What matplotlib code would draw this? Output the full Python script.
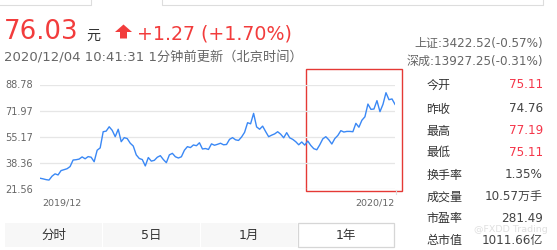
import matplotlib
matplotlib.use("Agg")
import matplotlib.pyplot as plt
from matplotlib.patches import Rectangle, Polygon

# ---------------- data ----------------
prices = [28.5, 28.1, 27.6, 27.3, 29.8, 31.3, 30.6, 33.4, 34.0, 34.6,
          36.0, 40.2, 40.4, 40.8, 42.2, 41.0, 42.4, 42.0, 39.1, 46.5,
          48.0, 58.4, 58.8, 61.6, 59.3, 55.2, 60.0, 52.0, 54.6, 54.0,
          51.0, 49.2, 43.5, 41.2, 40.5, 36.4, 41.8, 39.5, 40.0, 42.0,
          43.0, 40.5, 38.5, 43.5, 44.5, 42.3, 41.5, 42.3, 46.5, 48.8,
          48.2, 49.9, 49.4, 51.3, 47.3, 47.6, 47.0, 50.6, 49.7, 50.3,
          51.0, 50.0, 50.2, 53.5, 54.6, 53.2, 52.8, 55.0, 58.0, 64.2,
          63.5, 70.2, 61.5, 60.0, 62.0, 58.5, 55.2, 56.2, 57.0, 58.4,
          56.8, 54.5, 57.8, 54.5, 53.5, 52.0, 50.0, 51.8, 49.8, 52.4,
          49.6, 47.5, 46.8, 50.0, 53.8, 55.2, 53.2, 50.5, 54.0, 56.0,
          59.1, 58.2, 58.6, 58.6, 58.4, 63.8, 61.3, 65.8, 68.0, 76.2,
          72.8, 73.0, 78.4, 71.3, 76.0, 83.5, 79.0, 79.5, 76.03]
y_ticks = [21.56, 38.36, 55.17, 71.97, 88.78]
x_labels = ["2019/12", "2020/12"]

price_now = "76.03"
change_text = "+1.27 (+1.70%)"
time_text = "2020/12/04 10:41:31 1分钟前更新（北京时间）"
index_lines = ["上证:3422.52(-0.57%)", "深成:13927.25(-0.31%)"]
stat_names = ["今开", "昨收", "最高", "最低", "换手率", "成交量", "市盈率", "总市值"]
stat_values = ["75.11", "74.76", "77.19", "75.11", "1.35%", "10.57万手", "281.49", "1011.66亿"]
stat_red = [True, False, True, True, False, False, False, False]
tabs = ["分时", "5日", "1月", "1年"]

FAM = ["DejaVu Sans", "Noto Sans CJK SC"]
RED = "#f23c3c"
STATRED = "#f5364a"
GRAY = "#666666"
DARK = "#333333"
BLUE = "#3a88f5"

W, H = 557, 250
fig = plt.figure(figsize=(W / 100, H / 100), dpi=100)
fig.patch.set_facecolor("white")

def pt(px):
    return px * 72 / 100

# overlay axes in pixel coordinates
ov = fig.add_axes([0, 0, 1, 1])
ov.set_xlim(0, W)
ov.set_ylim(H, 0)
ov.axis("off")

# top faint box edges
ov.plot([0, 91, 91], [4.5, 4.5, 0], color="#dddddd", lw=0.8)
ov.plot([162, 162, 543, 543], [0, 4.5, 4.5, 0], color="#dddddd", lw=0.8)

# header
ov.text(4, 39, price_now, fontsize=pt(26), color=RED, family=FAM, va="baseline", ha="left")
ov.text(86, 40, "元", fontsize=pt(14), color=DARK, family=FAM, va="baseline", ha="left")
ov.add_patch(Polygon([[115, 32], [123.5, 24.5], [132, 32], [127, 32], [127, 38.5], [120, 38.5], [120, 32]],
                     closed=True, facecolor=RED, edgecolor="none"))
ov.text(137, 39, change_text, fontsize=pt(19), color=RED, family=FAM, va="baseline", ha="left")
ov.text(4, 58, time_text, fontsize=pt(13.2), color=GRAY, family=FAM, va="center", ha="left")

# indices
ov.text(543, 43, index_lines[0], fontsize=pt(12), color=GRAY, family=FAM, va="center", ha="right")
ov.text(543, 61, index_lines[1], fontsize=pt(12), color=GRAY, family=FAM, va="center", ha="right")

# stats panel
row_y = [85, 109, 131, 152.5, 175, 197, 218.5, 240.5]
for name, val, red, yy in zip(stat_names, stat_values, stat_red, row_y):
    ov.text(426.5, yy, name, fontsize=pt(12), color=DARK, family=FAM, va="center", ha="left")
    ov.text(543, yy, val, fontsize=pt(12), color=STATRED if red else "#444444",
            family=FAM, va="center", ha="right")

# watermark
ov.text(474, 229.5, "@FXDD Trading", fontsize=pt(9.5), color="#dcdcdc", family=FAM,
        va="center", ha="left", alpha=0.9)

# tabs
tab_x = [(5, 102), (103, 200), (201, 297), (298, 394)]
for i, ((x0, x1), lab) in enumerate(zip(tab_x, tabs)):
    if i == 3:
        ov.add_patch(Rectangle((x0, 222.5), x1 - x0, 24.5, facecolor="white",
                               edgecolor="#d6d6d6", lw=0.9))
    else:
        ov.add_patch(Rectangle((x0, 222.5), x1 - x0, 24.5, facecolor="#f7f7f7",
                               edgecolor="none"))
    ov.text((x0 + x1) / 2, 235, lab, fontsize=pt(12.5), color=DARK, family=FAM,
            va="center", ha="center")

# x labels
for lab, xp in zip(x_labels, [62, 375]):
    ov.text(xp, 203.5, lab, fontsize=pt(9.5), color=GRAY, family=FAM, va="center", ha="center")

# end tick
ov.plot([396, 396], [189.5, 194], color="#dddddd", lw=0.8)

# red box
ov.add_patch(Rectangle((305.5, 68.5), 96, 122.5, facecolor="none", edgecolor="#e53935", lw=1.0))

# price chart axes
x0p, x1p, ytop, ybot = 40, 395, 84.5, 189
ax = fig.add_axes([x0p / W, (H - ybot) / H, (x1p - x0p) / W, (ybot - ytop) / H])
ax.patch.set_alpha(0)
ax.plot(range(len(prices)), prices, color=BLUE, lw=1.0, solid_joinstyle="round")
ax.set_xlim(0, len(prices) - 1)
ax.set_ylim(y_ticks[0], y_ticks[-1])
ax.set_yticks(y_ticks)
ax.set_yticklabels([f"{v:.2f}" for v in y_ticks], fontsize=pt(9.8), color=GRAY, family=FAM)
ax.tick_params(axis="y", length=0, pad=pt(7))
ax.set_xticks([])
ax.grid(axis="y", color="#e6e6e6", lw=0.9)
ax.set_axisbelow(True)
for s in ax.spines.values():
    s.set_visible(False)

fig.savefig("out.png", dpi=100)
